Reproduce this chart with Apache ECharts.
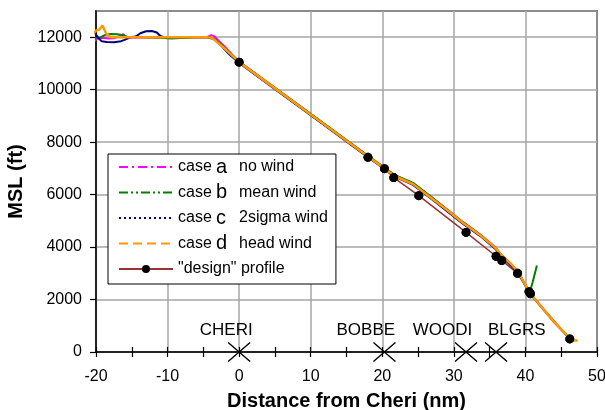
<!DOCTYPE html>
<html lang="en">
<head>
    <meta charset="UTF-8">
    <title>Descent profiles</title>
    <script src="https://cdn.jsdelivr.net/npm/echarts@6/dist/echarts.min.js"></script>
    <style>
        html, body { margin: 0; padding: 0; background: #fff; }
    </style>
</head>
<body>
    <div id="chart" style="width: 605px; height: 410px;"></div>
    <script>
        const chart = echarts.init(document.querySelector('#chart'));

        // distance from Cheri (nm), altitude MSL (ft)
        const caseA = [
            [-20.8, 11550], [-20.5, 11800], [-19.8, 11950], [-19.0, 11980], [-18.3, 11950],
            [-17.5, 11960], [-16.6, 12050], [-16.2, 12120], [-15.8, 12000], [-15.0, 11980],
            [-10.0, 12000], [-4.5, 12000], [-3.9, 12080], [-3.4, 12020], [-2.8, 11850],
            [-2.0, 11640], [-1.0, 11340], [0, 11070], [5, 10070], [10, 9070], [15, 8070],
            [18, 7480], [20.3, 7020], [21.8, 6730], [24.3, 6430], [26.7, 5940], [29.0, 5450],
            [31.3, 4950], [33.7, 4480], [35.8, 3990], [36.6, 3720], [38.0, 3360], [39.0, 3050],
            [40.0, 2560], [40.6, 2260], [42.0, 1800], [44.0, 1160], [46.2, 520]
        ];
        const caseB = [
            [-20.7, 11650], [-20.4, 11900], [-20.0, 11980], [-19.3, 12000], [-18.8, 12080],
            [-18.0, 12120], [-17.0, 12110], [-16.2, 12080], [-15.5, 12000], [-14.5, 12030],
            [-13.0, 12000], [-11.0, 11980], [-9.5, 11950], [-8.9, 11960], [-6.0, 12000],
            [-4.2, 12000], [-3.6, 11960], [-2.8, 11800], [-2.0, 11590], [-1.0, 11320],
            [0, 11060], [5, 10070], [10, 9080], [15, 8080], [18, 7480], [20.3, 7030],
            [21.8, 6740], [24.3, 6450], [26.7, 5950], [29.0, 5440], [31.3, 4940], [33.7, 4470],
            [35.8, 3960], [36.6, 3700], [38.0, 3340], [39.0, 3040], [40.0, 2540], [40.6, 2280],
            [41.0, 2650], [41.6, 3300]
        ];
        const caseC = [
            [-20.6, 12050], [-20.3, 12150], [-20.0, 12100], [-19.6, 11950], [-19.2, 11850],
            [-18.5, 11820], [-17.5, 11810], [-16.5, 11850], [-16.0, 11900], [-15.2, 12000],
            [-14.5, 12020], [-13.8, 12150], [-13.0, 12230], [-12.2, 12240], [-11.5, 12180],
            [-11.0, 12050], [-10.5, 12000], [-4.5, 12000], [-3.5, 11930], [-2.5, 11680],
            [-1.5, 11380], [0, 11020], [5, 10020], [10, 9030], [15, 8030], [18, 7430],
            [20.3, 6980], [21.8, 6680], [24.3, 6370], [26.7, 5870], [29.0, 5380], [31.3, 4880],
            [33.7, 4420], [35.8, 3930], [36.6, 3660], [37.5, 3420], [39.0, 3020], [40.0, 2530],
            [40.6, 2240], [42.0, 1790], [44.0, 1140], [46.2, 510]
        ];
        const caseD = [
            [-20.8, 11750], [-20.5, 12100], [-20.0, 12250], [-19.5, 12300], [-19.1, 12450],
            [-18.6, 12150], [-18.0, 12000], [-16.0, 12000], [-10.0, 12000], [-4.5, 12000],
            [-3.8, 11980], [-3.0, 11800], [-2.0, 11560], [-1.0, 11310], [0, 11050], [5, 10050],
            [10, 9050], [15, 8050], [18, 7450], [20.3, 7000], [21.8, 6700], [24.3, 6400],
            [26.7, 5900], [29.0, 5420], [31.3, 4920], [33.7, 4450], [35.8, 3970], [36.6, 3700],
            [38.0, 3350], [39.0, 3050], [40.0, 2550], [40.6, 2250], [42.0, 1800], [44.0, 1150],
            [46.2, 520], [46.6, 440], [47.3, 440]
        ];
        const design = [
            [0, 11050], [18, 7420], [20.3, 6990], [21.6, 6650], [25.1, 5960], [31.7, 4560],
            [35.9, 3650], [36.7, 3490], [38.9, 3000], [40.5, 2300], [40.7, 2220], [46.2, 500]
        ];

        const fixNames = ['CHERI', 'BOBBE', 'WOODI', 'BLGRS'];
        const fixDist = [0, 20.3, 31.7, 35.9];
        const fixLabelX = [-1.8, 17.7, 28.4, 38.8];
        const fixLabelY = 840;

        const caseKeys = ['a', 'b', 'c', 'd'];
        const caseDesc = ['no wind', 'mean wind', '2sigma wind', 'head wind'];
        const caseColors = ['#ff00ff', '#008000', '#000080', '#ff9900'];
        const caseDash = [[9, 4, 2, 4], [9, 3, 2, 3, 2, 3], [2, 3], [9, 5]];
        const caseData = [caseA, caseB, caseC, caseD];
        const designName = '"design" profile';

        const font = "'Liberation Sans', Arial, sans-serif";

        const series = caseData.map((d, i) => ({
            name: 'case ' + caseKeys[i],
            type: 'line',
            data: d,
            symbol: 'none',
            clip: false,
            lineStyle: { color: caseColors[i], width: i === 3 ? 2.5 : 2 },
            itemStyle: { color: caseColors[i] },
            z: 3 + i
        }));
        series.unshift({
            name: designName,
            type: 'line',
            data: design,
            symbol: 'circle',
            symbolSize: 9,
            showSymbol: true,
            lineStyle: { color: '#993333', width: 1.5 },
            itemStyle: { color: '#000' },
            z: 2
        });
        // dots drawn on top of the case lines
        series.push({
            type: 'scatter',
            data: design,
            symbolSize: 9,
            itemStyle: { color: '#000', opacity: 1 },
            z: 10
        });
        // fix crosses on the axis
        series.push({
            type: 'scatter',
            data: fixDist.map(x => [x, 0]),
            symbol: 'path://M0,0L10,10M10,0L0,10',
            symbolSize: [22, 19],
            clip: false,
            itemStyle: { color: 'transparent', borderColor: '#000', borderWidth: 1.2, opacity: 1 },
            z: 11
        });
        // fix names
        series.push({
            type: 'scatter',
            data: fixNames.map((n, i) => ({ name: n, value: [fixLabelX[i], fixLabelY] })),
            symbolSize: 0,
            itemStyle: { opacity: 1 },
            label: {
                show: true,
                position: 'inside',
                formatter: p => p.name,
                color: '#000',
                opacity: 1,
                textBorderWidth: 0,
                fontFamily: font,
                fontSize: 17
            },
            z: 11
        });

        const legendData = caseKeys.map((k, i) => ({
            name: 'case ' + k,
            itemStyle: { opacity: 0 },
            lineStyle: { type: caseDash[i], width: 2, color: caseColors[i] }
        }));
        legendData.push({ name: designName, itemStyle: { color: '#000' } });

        const option = {
            animation: false,
            grid: {
                left: 96, right: 8, top: 11, bottom: 58,
                outerBoundsMode: 'none',
                show: true, borderColor: '#000', borderWidth: 1.5
            },
            legend: {
                data: legendData,
                orient: 'vertical',
                left: 108,
                top: 154,
                itemWidth: 54,
                itemHeight: 10,
                itemGap: 5.5,
                padding: [3, 8, 5, 10],
                backgroundColor: '#fff',
                borderColor: '#000',
                borderWidth: 1,
                formatter: name => {
                    const i = caseKeys.indexOf(name.replace('case ', ''));
                    if (name.indexOf('case ') !== 0 || i < 0) return name;
                    return '{k|case}{l|' + caseKeys[i] + '}{r|' + caseDesc[i] + '}';
                },
                textStyle: {
                    color: '#000',
                    fontFamily: font,
                    fontSize: 16,
                    lineHeight: 20,
                    rich: {
                        k: { fontFamily: font, fontSize: 16, width: 38, lineHeight: 20 },
                        l: { fontFamily: font, fontSize: 20, width: 23, lineHeight: 20 },
                        r: { fontFamily: font, fontSize: 16, lineHeight: 20 }
                    }
                }
            },
            xAxis: [
                {
                    type: 'value',
                    min: -20, max: 50, interval: 10,
                    name: 'Distance from Cheri (nm)',
                    nameLocation: 'middle',
                    nameGap: 39,
                    nameTextStyle: { fontFamily: font, fontSize: 20, fontWeight: 'bold', color: '#000' },
                    axisLine: { show: true, onZero: false, lineStyle: { color: '#000', width: 1.5 } },
                    axisTick: { show: true, length: 5, lineStyle: { color: '#000', width: 1.2 } },
                    minorTick: { show: true, splitNumber: 2, length: 5, lineStyle: { color: '#000', width: 1.2 } },
                    axisLabel: { margin: 17, color: '#000', fontFamily: font, fontSize: 16 },
                    splitLine: { show: true, lineStyle: { color: '#a6a6a6', width: 1.5 } }
                },
                {
                    type: 'value',
                    min: -20, max: 50, interval: 5,
                    position: 'bottom',
                    axisLine: { show: false, onZero: false },
                    axisTick: { show: true, inside: true, length: 5, lineStyle: { color: '#000', width: 1.2 } },
                    axisLabel: { show: false },
                    splitLine: { show: false }
                }
            ],
            yAxis: {
                type: 'value',
                min: 0, max: 13000, interval: 2000,
                name: 'MSL (ft)',
                nameLocation: 'middle',
                nameGap: 50,
                nameTextStyle: { fontFamily: font, fontSize: 20, fontWeight: 'bold', color: '#000' },
                axisLine: { show: true, onZero: false, lineStyle: { color: '#000', width: 1.5 } },
                axisTick: { show: true, length: 6, lineStyle: { color: '#000', width: 1.2 } },
                axisLabel: {
                    margin: 14, color: '#000', fontFamily: font, fontSize: 16,
                    showMaxLabel: false, formatter: v => String(v)
                },
                splitLine: { show: true, lineStyle: { color: '#a6a6a6', width: 1.5 } }
            },
            series: series
        };
        chart.setOption(option);
    </script>
</body>
</html>
